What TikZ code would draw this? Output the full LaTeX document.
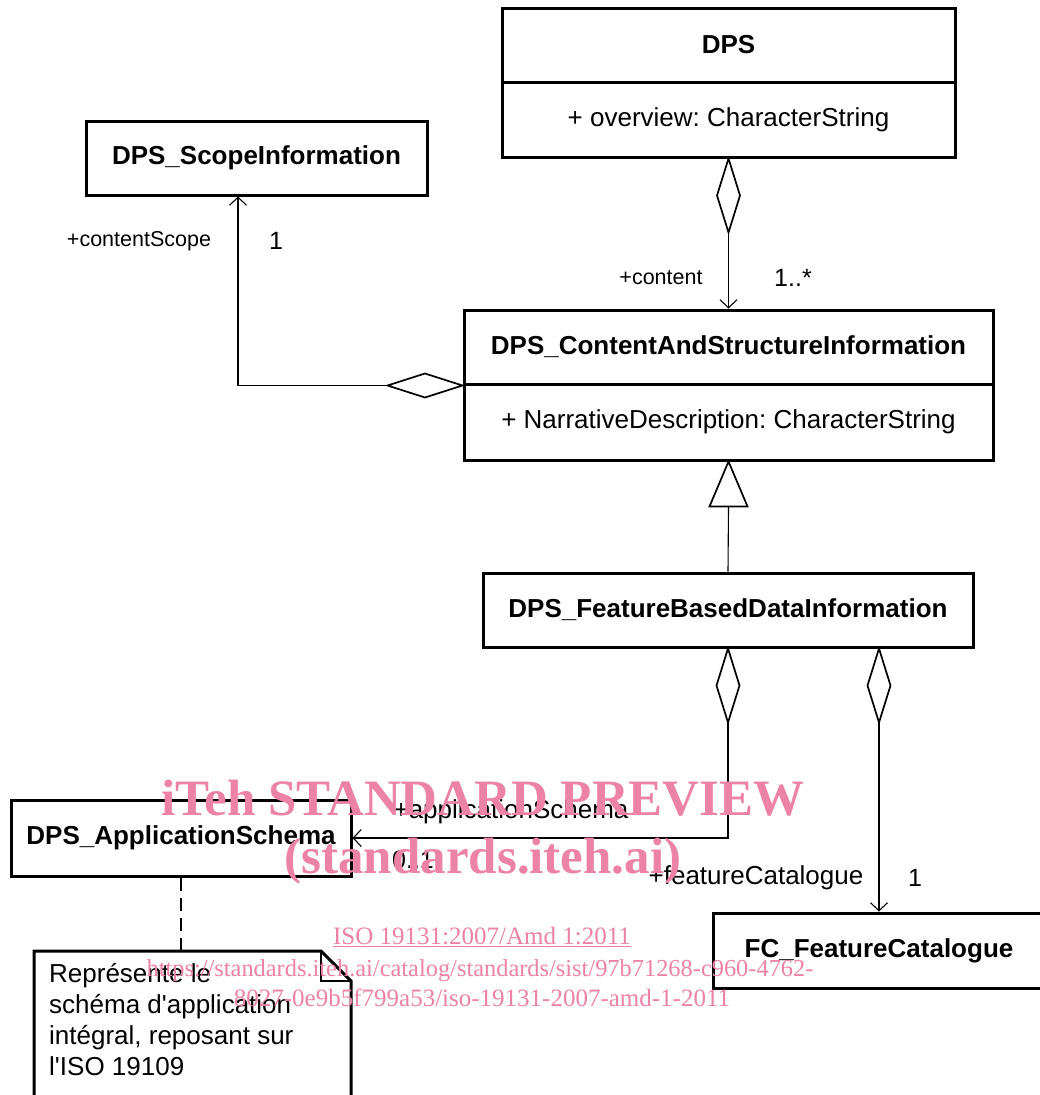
\documentclass[tikz,border=0pt]{standalone}
\usepackage{fontspec}
\setmainfont{Liberation Sans}
\newfontfamily\wmfont{Liberation Serif}
\usetikzlibrary{arrows.meta}
\definecolor{wm}{RGB}{236,130,165}
\frenchspacing
\begin{document}
\begin{tikzpicture}[x=1pt,y=-1pt,
 cls/.style={draw, line width=3pt, minimum height=74pt, inner sep=0pt, font=\fontsize{26}{30}\selectfont\bfseries},
 attr/.style={draw, line width=3pt, minimum height=75pt, inner sep=0pt, font=\fontsize{26}{30}\selectfont},
 conn/.style={line width=1.1pt},
 agg/.style={line width=1.7pt, fill=white},
 nav/.style={-{Straight Barb[length=8pt,width=17pt,line width=1.1pt]}},
 rolesm/.style={font=\fontsize{21.5}{25}\selectfont, inner sep=0pt},
 role/.style={font=\fontsize{26}{30}\selectfont, inner sep=0pt},
 mult/.style={font=\fontsize{25}{30}\selectfont, inner sep=0pt},
 wmtext/.style={text=wm, inner sep=0pt, anchor=base},
]
\useasboundingbox (0,0) rectangle (1040,1095);
\fill[white] (0,0) rectangle (1040,1095);

% classes
\node[cls, minimum width=453pt] (dps) at (728.5,45) {DPS};
\node[attr, minimum width=453pt] (dpsattr) at (728.5,119.5) {+ overview: CharacterString};
\node[cls, minimum width=341pt] (scope) at (256.5,158) {DPS\_ScopeInformation};
\node[cls, minimum width=529pt] (content) at (728.5,347) {DPS\_ContentAndStructureInformation};
\node[attr, minimum width=529pt, minimum height=76pt] (contentattr) at (728.5,422) {+ NarrativeDescription: CharacterString};
\node[cls, minimum width=490pt] (fb) at (728,610) {DPS\_FeatureBasedDataInformation};
\node[cls, minimum width=340pt, minimum height=76pt] (app) at (181,838) {DPS\_ApplicationSchema};
\node[cls, minimum width=332pt, minimum height=75pt] (fc) at (879,950.5) {FC\_FeatureCatalogue};

% DPS -> content (aggregation)
\draw[agg] (dpsattr.south) -- ++(-11.5,37) -- ++(11.5,37) -- ++(11.5,-37) -- cycle;
\draw[conn,nav] ([yshift=-74pt]dpsattr.south) -- (content.north);

% content -> scope (aggregation)
\draw[agg] (content.south west) -- ++(-37.5,-12) -- ++(-37.5,12) -- ++(37.5,12) -- cycle;
\draw[conn,nav] ([xshift=-75pt]content.south west) -| ([xshift=-18.5pt]scope.south);

% generalization
\draw[conn] (fb.north) -- ([yshift=-45pt]contentattr.south);
\draw[line width=1.7pt, fill=white] (contentattr.south) -- ++(-19,45) -- ++(38,0) -- cycle;

% fb -> app schema
\draw[agg] (fb.south) -- ++(-11.5,37) -- ++(11.5,37) -- ++(11.5,-37) -- cycle;
\draw[conn,nav] ([yshift=-74pt]fb.south) |- (app.east);

% fb -> feature catalogue
\coordinate (d4) at (fb.south -| fc.north);
\draw[agg] (d4) -- ++(-11.5,37) -- ++(11.5,37) -- ++(11.5,-37) -- cycle;
\draw[conn,nav] ([yshift=-74pt]d4) -- (fc.north);

% note
\coordinate (notetop) at (181,951);
\draw[line width=3pt] (34,951) -- (321,951) -- (351,981) -- (351,1100) -- (34,1100) -- cycle;
\draw[line width=1.7pt] (321,951) -- (321,981) -- (351,981);
\node[font=\fontsize{26}{31}\selectfont, align=left, anchor=north west, inner sep=0pt] (note) at (49,963)
 {Représente le\\sch\'ema d\textquotesingle application\\intégral, reposant sur\\l\textquotesingle ISO 19109};
\draw[conn, dash pattern=on 13pt off 7pt] (app.south) -- (notetop);

% labels
\node[rolesm] (l1) at (139,241) {+contentScope};
\node[mult] (m1) at (276,241) {1};
\node[rolesm] (l2) at (661,278) {+content};
\node[mult] (m2) at (793,278) {1..*};
\node[role] (l3) at (511,812) {+applicationSchema};
\node[mult] (m3) at (413,860) {0..1};
\node[role] (l4) at (756,878) {+featureCatalogue};
\node[mult] (m4) at (915,878) {1};

% watermark
\node[wmtext, font=\wmfont\bfseries\fontsize{51}{58}\selectfont] (w1) at (483,815) {iTeh STANDARD PREVIEW};
\node[wmtext, font=\wmfont\bfseries\fontsize{51}{58}\selectfont] (w2) at (483,873) {(standards.iteh.ai)};
\node[wmtext, font=\wmfont\fontsize{25}{30}\selectfont] (w3) at (482,944) {\underline{ISO 19131:2007/Amd 1:2011}};
\node[wmtext, font=\wmfont\fontsize{24.4}{30}\selectfont] (w4) at (480,976) {https://standards.iteh.ai/catalog/standards/sist/97b71268-c960-4762-};
\node[wmtext, font=\wmfont\fontsize{25}{30}\selectfont] (w5) at (482,1006) {8027-0e9b5f799a53/iso-19131-2007-amd-1-2011};
\end{tikzpicture}
\end{document}
